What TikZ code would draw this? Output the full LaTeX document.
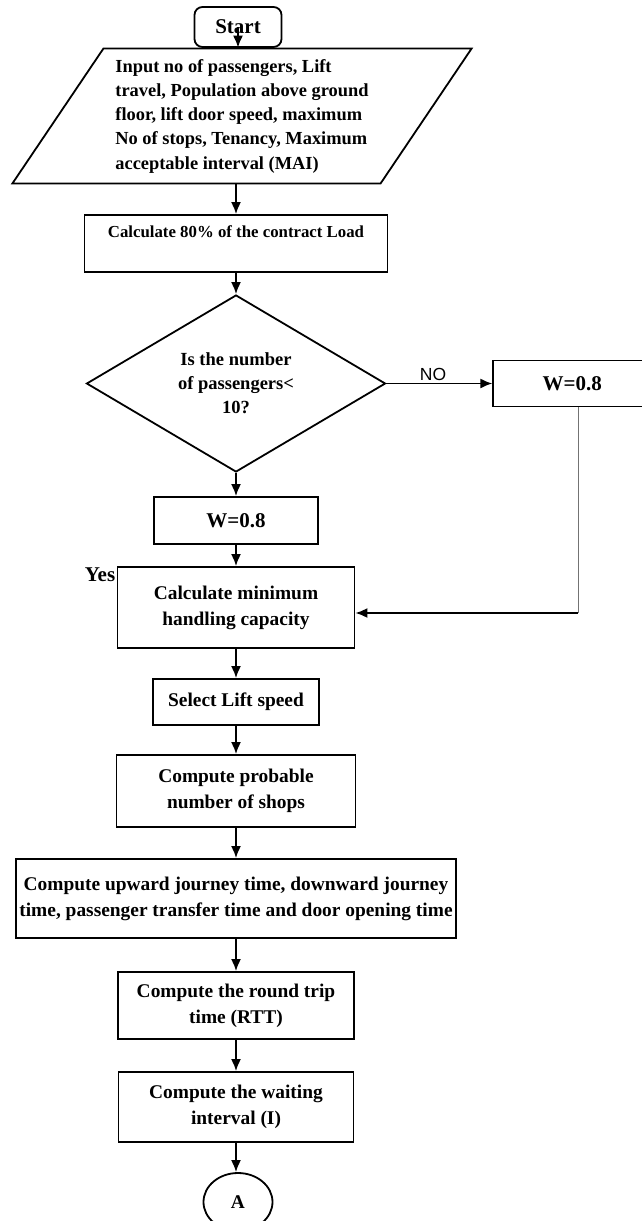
\documentclass[tikz,border=0pt]{standalone}
\usepackage{fontspec}
\setmainfont{Liberation Serif}
\setsansfont{Liberation Sans}
\usepackage{tikz}
\usetikzlibrary{arrows.meta,calc,positioning,shapes.geometric}
\tikzset{
  >={Latex[length=12pt,width=10pt]},
  flow/.style={->,line width=1.8pt},
  returnline/.style={line width=0.7pt,draw=black!55},
  box/.style={draw,line width=1.8pt,align=center,inner sep=3pt,
    font=\bfseries\fontsize{19.4}{26}\selectfont},
  startbox/.style={box,rounded corners=8pt,minimum width=87pt,minimum height=40pt,
    font=\bfseries\fontsize{21}{24}\selectfont},
  iobox/.style={draw,line width=1.8pt,trapezium,trapezium left angle=56,
    trapezium right angle=124,align=left,inner xsep=12pt,inner ysep=10.5pt,
    font=\bfseries\fontsize{18.4}{24.25}\selectfont},
  decision/.style={draw,line width=1.8pt,diamond,inner sep=0pt,minimum width=299pt,
    minimum height=169pt,align=center,font=\bfseries\fontsize{18.5}{24}\selectfont},
  connector/.style={draw,line width=1.8pt,ellipse,minimum width=69pt,minimum height=58pt,
    font=\bfseries\fontsize{19.4}{24}\selectfont}
}

\begin{document}
\begin{tikzpicture}[x=1pt,y=-1pt]
    \useasboundingbox (0,0) rectangle (642,1221);
    \node[startbox] (start) at (238,27) {Start};
    \node[iobox] (input) at (242,116) {Input no of passengers, Lift\\travel, Population above ground\\floor, lift door speed, maximum\\No of stops, Tenancy, Maximum\\acceptable interval (MAI)};
    \node[box,minimum width=303pt,minimum height=57pt,font=\bfseries\fontsize{16.8}{24}\selectfont] (load) at (236,243.5) {Calculate 80\% of the contract Load\\[-7pt]\strut};
    \node[decision] (check) at (236,383.5) {Is the number\\of passengers<\\10?};
    \node[box,minimum width=158pt,minimum height=46pt,font=\bfseries\fontsize{21}{24}\selectfont,right=106pt of check] (wno) {W=0.8};
    \node[box,minimum width=164pt,minimum height=47pt,font=\bfseries\fontsize{21}{24}\selectfont] (wyes) at (236,520.5) {W=0.8};
    \node[font=\bfseries\fontsize{21}{24}\selectfont] (yes) at (100,575) {Yes};
    \node[box,minimum width=237pt,minimum height=81pt] (handling) at (236,607.5) {Calculate minimum\\handling capacity};
    \node[box,minimum width=166pt,minimum height=46pt] (speed) at (236,702) {Select Lift speed};
    \node[box,minimum width=239pt,minimum height=72pt] (stops) at (236,791) {Compute probable\\number of shops};
    \node[box,minimum width=440pt,minimum height=79pt] (journey) at (236,898.5) {Compute upward journey time, downward journey\\time, passenger transfer time and door opening time};
    \node[box,minimum width=236pt,minimum height=67pt] (rtt) at (236,1005.5) {Compute the round trip\\time (RTT)};
    \node[box,minimum width=235pt,minimum height=70pt] (interval) at (236,1107) {Compute the waiting\\interval (I)};
    \node[connector] (pageA) at (238,1202) {A};
    \coordinate (turn) at (578,613);
    \draw[flow] (start.center) -- (start.center |- input.north);
    \draw[flow] (load |- input.south) -- (load);
    \draw[flow] (load) -- (check);
    \draw[flow] (check.east) -- (wno) node[pos=0.44,above,inner sep=2pt,font=\sffamily\fontsize{17.5}{20}\selectfont] {NO};
    \draw[flow] (check) -- (wyes);
    \draw[flow] (wyes) -- (handling);
    \draw[returnline] (wno.south -| turn) -- (turn);
    \draw[flow] (turn) -- (turn -| handling.east);
    \draw[flow] (handling) -- (speed);
    \draw[flow] (speed) -- (stops);
    \draw[flow] (stops) -- (journey);
    \draw[flow] (journey) -- (rtt);
    \draw[flow] (rtt) -- (interval);
    \draw[flow] (interval) -- (interval |- pageA.north);
  \end{tikzpicture}
\end{document}
